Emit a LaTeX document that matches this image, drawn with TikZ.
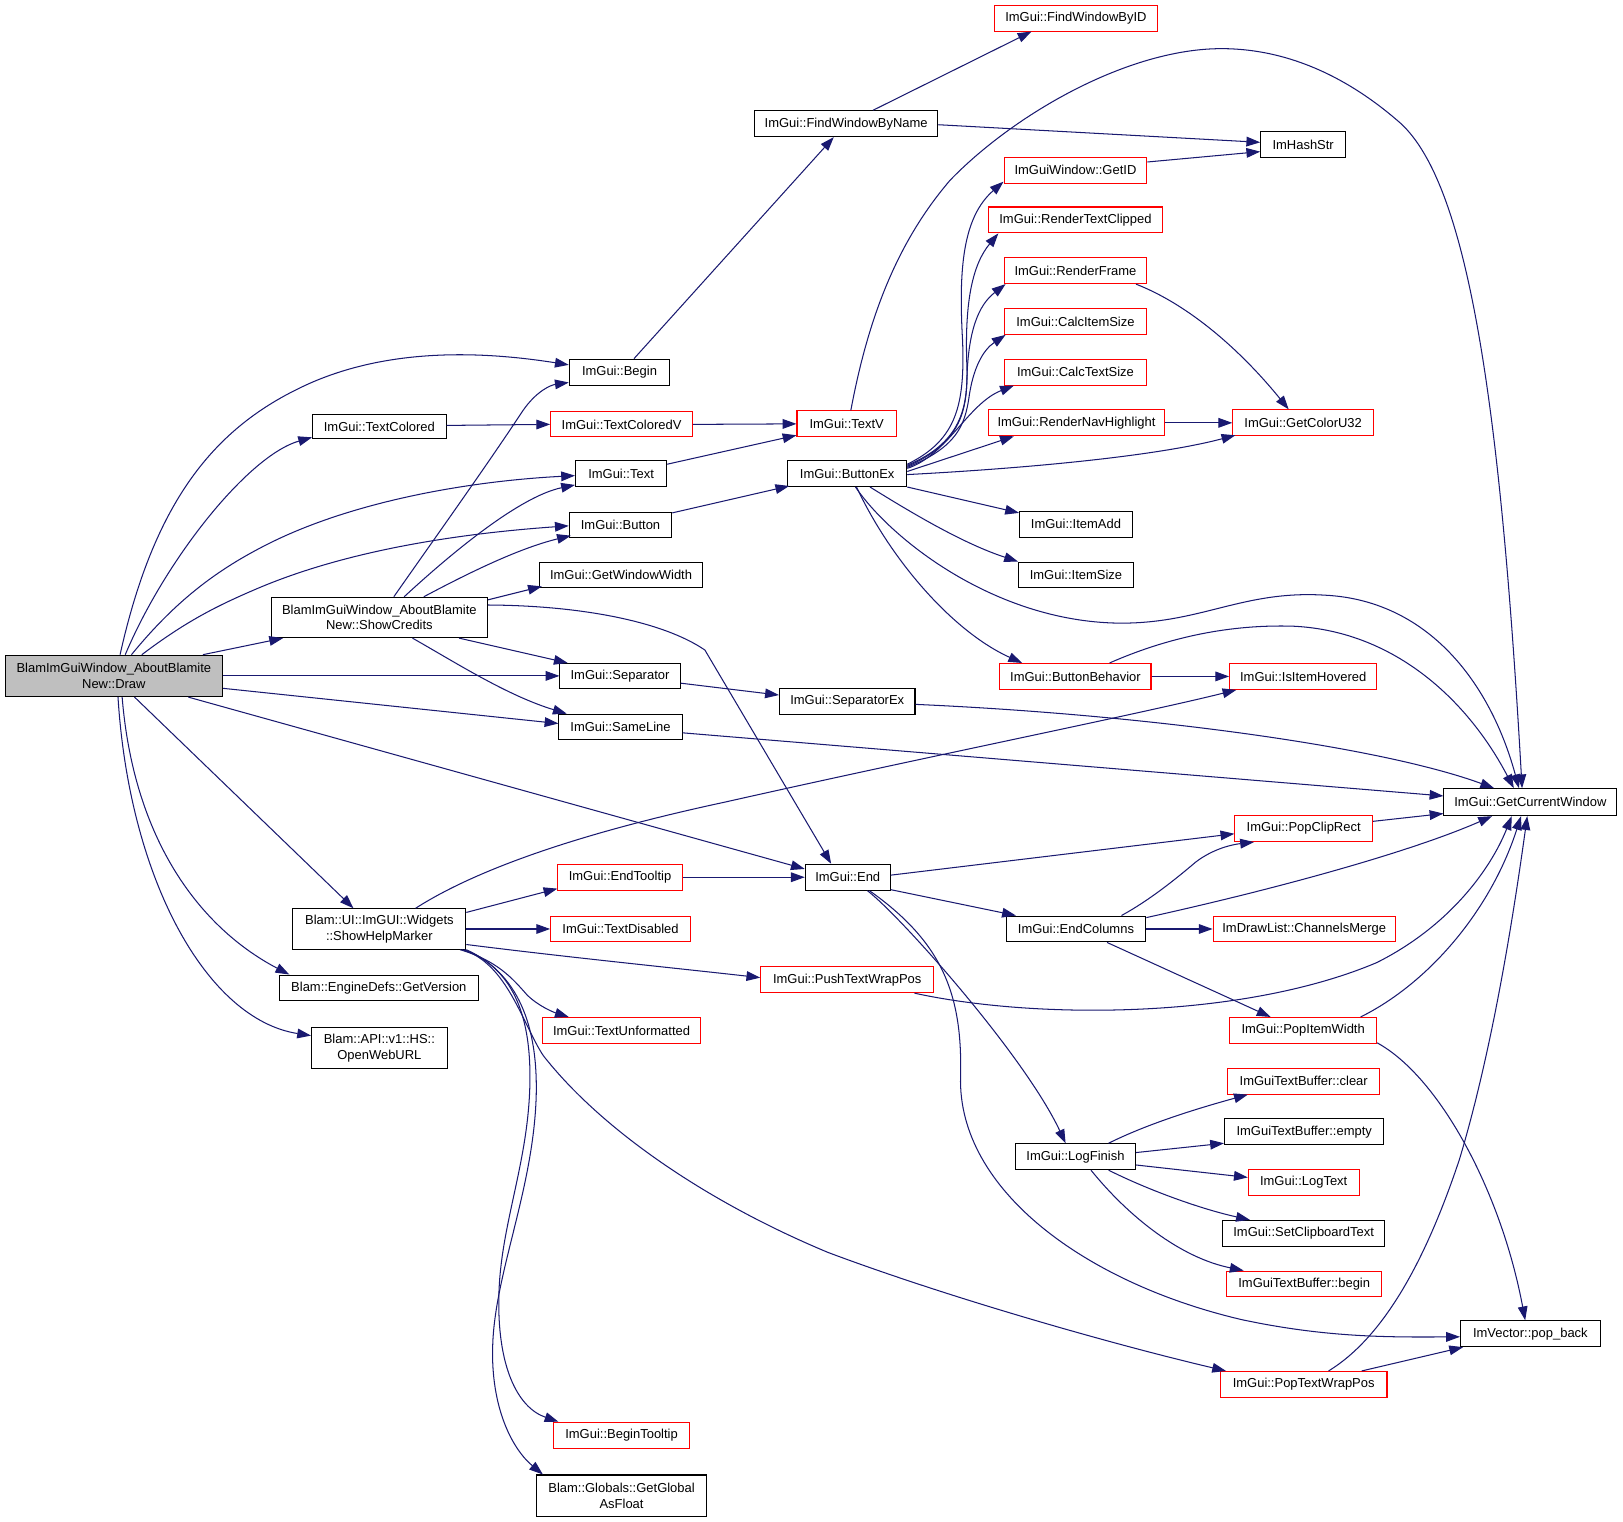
\documentclass[tikz,border=0pt]{standalone}
\usepackage{fontspec}
\setmainfont{Liberation Sans}
\usetikzlibrary{arrows.meta,calc}
\definecolor{edgeblue}{HTML}{191970}
\definecolor{rootgray}{HTML}{BFBFBF}
\definecolor{nodered}{HTML}{FF0000}
\newcommand\gn[7]{\node[#1, minimum width=#5*0.75pt, minimum height=#6*0.75pt] (#2) at (#3,#4) {#7};}
\begin{document}
\begin{tikzpicture}[x=0.75pt,y=-0.75pt,
  gbox/.style={draw=black, line width=0.75pt, fill=white, inner sep=0pt, align=center, font=\fontsize{9.4}{11.2}\selectfont},
  rbox/.style={gbox, draw=nodered},
  rootbox/.style={gbox, fill=rootgray},
  cedge/.style={draw=edgeblue, line width=0.75pt, -{Triangle[length=10pt,width=7pt]}}]
\fill[white] (0,0) rectangle (1568,1470);
\useasboundingbox (0,0) rectangle (1568,1470);
% nodes
\gn{rootbox}{draw}{110}{653}{210}{40}{BlamImGuiWindow\_AboutBlamite\\New::Draw}
\gn{gbox}{showcredits}{366.5}{596.5}{209}{39}{BlamImGuiWindow\_AboutBlamite\\New::ShowCredits}
\gn{gbox}{textcolored}{366.5}{412}{129}{24}{ImGui::TextColored}
\gn{gbox}{begin}{598.5}{359.5}{97}{25}{ImGui::Begin}
\gn{rbox}{textcoloredv}{600.5}{410}{137}{24}{ImGui::TextColoredV}
\gn{gbox}{text}{600}{457.5}{88}{25}{ImGui::Text}
\gn{gbox}{button}{599.5}{507}{99}{24}{ImGui::Button}
\gn{gbox}{gww}{600}{555.5}{158}{25}{ImGui::GetWindowWidth}
\gn{gbox}{separator}{599}{653}{116}{24}{ImGui::Separator}
\gn{gbox}{sameline}{599.5}{702}{119}{24}{ImGui::SameLine}
\gn{gbox}{fwbn}{817.5}{119.5}{177}{25}{ImGui::FindWindowByName}
\gn{rbox}{fwbid}{1039.5}{17.5}{157}{25}{ImGui::FindWindowByID}
\gn{gbox}{imhashstr}{1259}{139.5}{82}{25}{ImHashStr}
\gn{rbox}{getid}{1039}{164.5}{138}{25}{ImGuiWindow::GetID}
\gn{rbox}{rtc}{1039}{212.5}{168}{25}{ImGui::RenderTextClipped}
\gn{rbox}{renderframe}{1039}{261.5}{138}{25}{ImGui::RenderFrame}
\gn{rbox}{cis}{1039}{310.5}{138}{25}{ImGui::CalcItemSize}
\gn{rbox}{cts}{1039}{359.5}{138}{25}{ImGui::CalcTextSize}
\gn{rbox}{rnh}{1040}{408.5}{170}{25}{ImGui::RenderNavHighlight}
\gn{rbox}{gcu}{1259}{408.5}{136}{25}{ImGui::GetColorU32}
\gn{rbox}{textv}{818}{409.5}{96}{25}{ImGui::TextV}
\gn{gbox}{buttonex}{818.5}{457.5}{115}{25}{ImGui::ButtonEx}
\gn{gbox}{itemadd}{1039.5}{506.5}{109}{25}{ImGui::ItemAdd}
\gn{gbox}{itemsize}{1039.5}{555.5}{111}{25}{ImGui::ItemSize}
\gn{rbox}{bb}{1039}{653.5}{146}{25}{ImGui::ButtonBehavior}
\gn{rbox}{iih}{1259}{653.5}{142}{25}{ImGui::IsItemHovered}
\gn{gbox}{separatorex}{818.5}{677.5}{131}{25}{ImGui::SeparatorEx}
\gn{gbox}{gcw}{1478.5}{775}{167}{26}{ImGui::GetCurrentWindow}
\gn{rbox}{pcr}{1259.5}{800.5}{133}{25}{ImGui::PopClipRect}
\gn{gbox}{end}{819}{847.5}{82}{25}{ImGui::End}
\gn{rbox}{endtooltip}{599}{847.5}{120}{25}{ImGui::EndTooltip}
\gn{gbox}{shm}{366.5}{897.5}{167}{39}{Blam::UI::ImGUI::Widgets\\::ShowHelpMarker}
\gn{rbox}{textdisabled}{599.5}{897.5}{135}{25}{ImGui::TextDisabled}
\gn{gbox}{endcolumns}{1039.5}{897.5}{135}{25}{ImGui::EndColumns}
\gn{rbox}{cm}{1260}{897.5}{176}{25}{ImDrawList::ChannelsMerge}
\gn{rbox}{ptwp}{818.5}{946.5}{167}{25}{ImGui::PushTextWrapPos}
\gn{gbox}{getversion}{366}{954.5}{192}{25}{Blam::EngineDefs::GetVersion}
\gn{rbox}{tu}{600.5}{995.5}{153}{25}{ImGui::TextUnformatted}
\gn{rbox}{piw}{1259}{995.5}{142}{25}{ImGui::PopItemWidth}
\gn{gbox}{owu}{366.5}{1012.5}{131}{39}{Blam::API::v1::HS::\\OpenWebURL}
\gn{rbox}{clear}{1259.5}{1044.5}{147}{25}{ImGuiTextBuffer::clear}
\gn{gbox}{empty}{1260}{1093.5}{154}{25}{ImGuiTextBuffer::empty}
\gn{gbox}{logfinish}{1039}{1117.5}{116}{25}{ImGui::LogFinish}
\gn{rbox}{logtext}{1259.5}{1142.5}{107}{25}{ImGui::LogText}
\gn{gbox}{sct}{1259.5}{1191.5}{157}{25}{ImGui::SetClipboardText}
\gn{rbox}{tbbegin}{1260}{1240.5}{150}{25}{ImGuiTextBuffer::begin}
\gn{gbox}{popback}{1478.5}{1288.5}{135}{25}{ImVector::pop\_back}
\gn{rbox}{ptw}{1259.5}{1337.5}{161}{25}{ImGui::PopTextWrapPos}
\gn{rbox}{bt}{600.5}{1386.5}{131}{25}{ImGui::BeginTooltip}
\gn{gbox}{ggaf}{600.5}{1445}{165}{40}{Blam::Globals::GetGlobal\\AsFloat}
% edges from Draw
\draw[cedge] ($(draw.north)+(6,0)$) .. controls (150,480) and (210,410) .. (300,370) .. controls (380,335) and (470,340) .. ($(begin.west)+(0,-7)$);
\draw[cedge] ($(draw.north)+(11,0)$) .. controls (160,540) and (240,440) .. ($(textcolored.south west)+(0,-2)$);
\draw[cedge] ($(draw.north)+(17,0)$) .. controls (170,580) and (210,550) .. (260,525) .. controls (340,485) and (450,465) .. ($(text.west)+(0,2)$);
\draw[cedge] ($(draw.north)+(27,0)$) .. controls (180,600) and (210,585) .. (250,568) .. controls (340,530) and (450,515) .. ($(button.west)+(0,1)$);
\draw[cedge] ($(draw.north)+(86,0)$) -- ($(showcredits.south west)+(12,0)$);
\draw[cedge] (draw.east) -- (separator.west);
\draw[cedge] ($(draw.east)+(0,12)$) -- ($(sameline.west)+(0,-3)$);
\draw[cedge] ($(draw.south)+(72,0)$) -- ($(end.west)+(0,-8)$);
\draw[cedge] ($(draw.south)+(20,0)$) -- ($(shm.north)+(-25,0)$);
\draw[cedge] ($(draw.south)+(8,0)$) .. controls (130,820) and (200,900) .. ($(getversion.north west)+(10,0)$);
\draw[cedge] ($(draw.south)+(4,0)$) .. controls (125,850) and (200,985) .. ($(owu.west)+(0,-12)$);
% edges from ShowCredits
\draw[cedge] ($(showcredits.north)+(14,0)$) .. controls (425,513) and (470,450) .. (505,397) .. controls (518,378) and (532,372) .. ($(begin.south west)+(0,-3)$);
\draw[cedge] ($(showcredits.north)+(24,0)$) .. controls (430,540) and (500,480) .. ($(text.south west)+(0,-2)$);
\draw[cedge] ($(showcredits.north)+(43,0)$) .. controls (450,555) and (500,530) .. ($(button.south west)+(2,-2)$);
\draw[cedge] ($(showcredits.east)+(0,-17)$) -- ($(gww.south west)+(3,-2)$);
\draw[cedge] ($(showcredits.east)+(0,-12)$) .. controls (560,585) and (640,600) .. (681,628) -- ($(end.north)+(-16,0)$);
\draw[cedge] ($(showcredits.south)+(77,0)$) -- ($(separator.north west)+(8,0)$);
\draw[cedge] ($(showcredits.south)+(32,0)$) .. controls (440,640) and (490,672) .. ($(sameline.north west)+(8,0)$);
% middle column
\draw[cedge] ($(textcolored.east)+(0,-1)$) -- (textcoloredv.west);
\draw[cedge] (textcoloredv.east) -- (textv.west);
\draw[cedge] ($(text.north east)+(0,4)$) -- ($(textv.south west)+(0,-2)$);
\draw[cedge] ($(button.north east)+(0,1)$) -- ($(buttonex.south west)+(2,-1)$);
\draw[cedge] ($(separator.east)+(0,7)$) -- ($(separatorex.west)+(0,-6)$);
\draw[cedge] ($(sameline.east)+(0,6)$) -- ($(gcw.west)+(0,-6)$);
\draw[cedge] ($(begin.north)+(14,0)$) -- ($(fwbn.south)+(-12,0)$);
\draw[cedge] ($(fwbn.north)+(26,0)$) -- ($(fwbid.south west)+(36,0)$);
\draw[cedge] ($(fwbn.east)+(0,1)$) -- ($(imhashstr.west)+(0,-2)$);
\draw[cedge] ($(getid.north east)+(0,5)$) -- ($(imhashstr.west)+(0,7)$);
\draw[cedge] ($(textv.north)+(4,0)$) .. controls (840,300) and (870,230) .. (918,174) .. controls (980,110) and (1090,47) .. (1180,47) .. controls (1260,47) and (1320,90) .. (1353,119) .. controls (1420,180) and (1450,400) .. ($(gcw.north)+(-8,0)$);
% ButtonEx
\draw[cedge] ($(buttonex.north east)+(0,4)$) .. controls (925,425) and (932,390) .. (930,330) .. controls (926,260) and (930,210) .. ($(getid.south west)+(0,-2)$);
\draw[cedge] ($(buttonex.north east)+(0,5)$) .. controls (928,428) and (936,395) .. (934,350) .. controls (932,290) and (940,255) .. ($(rtc.south west)+(10,0)$);
\draw[cedge] ($(buttonex.north east)+(0,6)$) .. controls (925,430) and (933,400) .. (934,370) .. controls (935,320) and (945,295) .. ($(renderframe.south west)+(2,0)$);
\draw[cedge] ($(buttonex.north east)+(0,7)$) .. controls (925,432) and (932,410) .. (936,385) .. controls (940,355) and (950,338) .. ($(cis.south west)+(2,0)$);
\draw[cedge] ($(buttonex.north east)+(0,8)$) .. controls (915,440) and (935,390) .. ($(cts.south west)+(10,0)$);
\draw[cedge] ($(buttonex.east)+(0,-2)$) -- ($(rnh.south west)+(25,0)$);
\draw[cedge] ($(buttonex.east)+(0,1)$) .. controls (1000,452) and (1120,440) .. ($(gcu.south west)+(3,-1)$);
\draw[cedge] (buttonex.south east) -- ($(itemadd.north west)+(0,2)$);
\draw[cedge] ($(buttonex.south)+(22,0)$) .. controls (880,495) and (930,525) .. (itemsize.north west);
\draw[cedge] ($(buttonex.south)+(8,0)$) .. controls (860,520) and (960,600) .. (1080,602) .. controls (1160,603) and (1200,570) .. (1280,575) .. controls (1380,580) and (1440,660) .. ($(gcw.north)+(-11,0)$);
\draw[cedge] ($(buttonex.south)+(9,0)$) .. controls (860,540) and (920,610) .. ($(bb.north west)+(22,0)$);
\draw[cedge] ($(renderframe.south east)+(-11,0)$) .. controls (1150,295) and (1200,340) .. ($(gcu.north)+(-14,0)$);
\draw[cedge] (rnh.east) -- (gcu.west);
\draw[cedge] (bb.east) -- (iih.west);
\draw[cedge] ($(bb.north)+(33,0)$) .. controls (1130,615) and (1190,603) .. (1250,605) .. controls (1350,610) and (1420,680) .. ($(gcw.north)+(-16,0)$);
\draw[cedge] ($(separatorex.east)+(0,3)$) .. controls (1100,690) and (1330,720) .. ($(gcw.north west)+(49,0)$);
% End
\draw[cedge] ($(end.east)+(0,-2)$) -- ($(pcr.west)+(0,5)$);
\draw[cedge] ($(end.south east)+(0,-1)$) -- ($(endcolumns.north west)+(10,0)$);
\draw[cedge] ($(end.south)+(19,0)$) .. controls (870,885) and (990,1020) .. ($(logfinish.north west)+(49,0)$);
\draw[cedge] ($(end.south)+(21,0)$) .. controls (910,910) and (930,960) .. (928,1040) .. controls (925,1150) and (1050,1240) .. (1200,1275) .. controls (1280,1292) and (1340,1292) .. ($(popback.west)+(0,3)$);
\draw[cedge] (endtooltip.east) -- (end.west);
% EndColumns
\draw[cedge] ($(endcolumns.north east)+(-24,0)$) .. controls (1110,870) and (1135,850) .. (1155,833) .. controls (1172,820) and (1190,816) .. ($(pcr.south west)+(19,0)$);
\draw[cedge] ($(endcolumns.east)+(0,-11)$) .. controls (1250,855) and (1370,820) .. ($(gcw.south west)+(47,0)$);
\draw[cedge] (endcolumns.east) -- (cm.west);
\draw[cedge] ($(endcolumns.south)+(30,0)$) -- ($(piw.north west)+(40,0)$);
\draw[cedge] ($(ptwp.south east)+(-19,0)$) .. controls (1000,985) and (1200,985) .. (1330,930) .. controls (1400,895) and (1440,840) .. ($(gcw.south)+(-18,0)$);
\draw[cedge] ($(piw.north east)+(-16,0)$) .. controls (1380,950) and (1440,880) .. ($(gcw.south)+(-9,0)$);
\draw[cedge] ($(piw.south east)+(0,-1)$) .. controls (1390,1040) and (1450,1150) .. ($(popback.north)+(-5,0)$);
\draw[cedge] ($(pcr.east)+(0,-7)$) -- ($(gcw.west)+(0,11)$);
\draw[cedge] ($(ptw.north east)+(-25,0)$) -- ($(popback.south west)+(3,0)$);
\draw[cedge] ($(ptw.north)+(24,0)$) .. controls (1340,1290) and (1380,1210) .. (1410,1120) .. controls (1440,1020) and (1460,900) .. ($(gcw.south)+(-3,0)$);
% ShowHelpMarker
\draw[cedge] ($(shm.north)+(35,0)$) .. controls (460,840) and (560,805) .. (700,775) .. controls (900,730) and (1100,690) .. ($(iih.south west)+(7,0)$);
\draw[cedge] ($(shm.north east)+(0,4)$) -- ($(endtooltip.south west)+(0,-2)$);
\draw[cedge] (shm.east) -- (textdisabled.west);
\draw[cedge] ($(shm.south east)+(0,-5)$) .. controls (550,925) and (650,935) .. ($(ptwp.west)+(0,-2)$);
\draw[cedge] ($(shm.south east)+(-6,0)$) .. controls (480,928) and (495,945) .. (509,961) .. controls (520,972) and (535,978) .. ($(tu.north west)+(26,0)$);
\draw[cedge] ($(shm.south east)+(-2,0)$) .. controls (495,935) and (512,980) .. (512,1040) .. controls (512,1120) and (484,1180) .. (482,1250) .. controls (480,1320) and (500,1360) .. ($(bt.north west)+(5,0)$);
\draw[cedge] (shm.south east) .. controls (500,940) and (520,990) .. (518,1060) .. controls (515,1150) and (478,1230) .. (476,1300) .. controls (474,1360) and (495,1400) .. ($(ggaf.north west)+(7,0)$);
\draw[cedge] ($(shm.south east)+(-4,0)$) .. controls (490,930) and (505,990) .. (525,1020) .. controls (580,1090) and (680,1160) .. (800,1210) .. controls (920,1255) and (1080,1300) .. ($(ptw.north west)+(6,0)$);
% LogFinish
\draw[cedge] ($(logfinish.north)+(32,0)$) .. controls (1110,1085) and (1160,1070) .. ($(clear.south west)+(20,0)$);
\draw[cedge] ($(logfinish.east)+(0,-4)$) -- ($(empty.south west)+(0,-2)$);
\draw[cedge] ($(logfinish.east)+(0,8)$) -- ($(logtext.west)+(0,-5)$);
\draw[cedge] ($(logfinish.south)+(32,0)$) .. controls (1110,1150) and (1160,1168) .. ($(sct.north west)+(27,0)$);
\draw[cedge] ($(logfinish.south)+(15,0)$) .. controls (1090,1175) and (1140,1215) .. ($(tbbegin.north west)+(17,0)$);
\end{tikzpicture}
\end{document}
